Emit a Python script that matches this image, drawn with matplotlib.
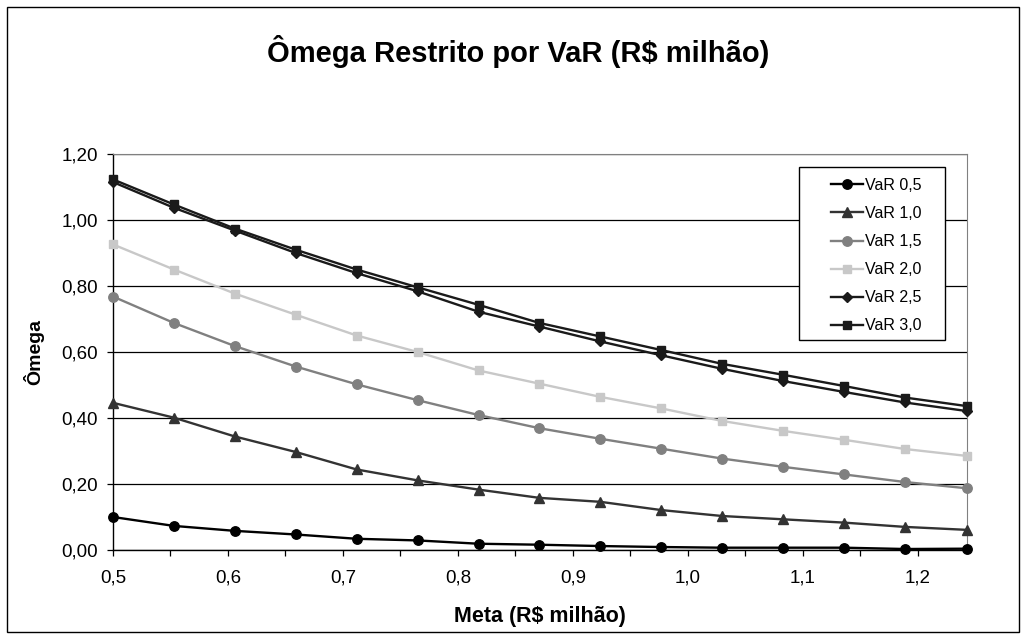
import matplotlib
matplotlib.use("Agg")
import matplotlib.pyplot as plt
from matplotlib.patches import Rectangle
from matplotlib.ticker import MultipleLocator, FuncFormatter

plt.rcParams["font.family"] = ["Liberation Sans", "DejaVu Sans"]

# Meta (R$ milhão) -- 15 points from 0.5 to ~1.243
meta = [0.500, 0.553, 0.606, 0.659, 0.712, 0.765, 0.818, 0.871,
        0.924, 0.977, 1.030, 1.083, 1.136, 1.189, 1.243]

var_05 = [0.100, 0.073, 0.058, 0.047, 0.034, 0.029, 0.019, 0.016,
          0.012, 0.009, 0.007, 0.007, 0.007, 0.003, 0.004]
var_10 = [0.446, 0.401, 0.344, 0.297, 0.244, 0.211, 0.183, 0.158,
          0.146, 0.121, 0.103, 0.093, 0.083, 0.070, 0.061]
var_15 = [0.768, 0.688, 0.618, 0.556, 0.502, 0.454, 0.409, 0.369,
          0.337, 0.307, 0.277, 0.252, 0.229, 0.206, 0.187]
var_20 = [0.926, 0.850, 0.777, 0.713, 0.650, 0.600, 0.544, 0.504,
          0.464, 0.429, 0.391, 0.361, 0.334, 0.306, 0.285]
var_25 = [1.115, 1.037, 0.968, 0.900, 0.839, 0.784, 0.722, 0.677,
          0.632, 0.590, 0.549, 0.512, 0.479, 0.447, 0.421]
var_30 = [1.123, 1.047, 0.974, 0.910, 0.850, 0.796, 0.743, 0.688,
          0.647, 0.606, 0.564, 0.531, 0.497, 0.462, 0.436]

# (label, values, colour, marker, marker size)
SERIES = [
    ("VaR 0,5", var_05, "#000000", "o", 6.8),
    ("VaR 1,0", var_10, "#333333", "^", 7.2),
    ("VaR 1,5", var_15, "#808080", "o", 6.8),
    ("VaR 2,0", var_20, "#c8c8c8", "s", 6.2),
    ("VaR 2,5", var_25, "#1a1a1a", "D", 5.4),
    ("VaR 3,0", var_30, "#1a1a1a", "s", 6.2),
]

fig = plt.figure(figsize=(10.26, 6.39), dpi=100)
ax = fig.add_axes([113 / 1026, 1 - 550 / 639, (967 - 113) / 1026, (550 - 154) / 639])

for label, vals, col, mk, ms in SERIES:
    ax.plot(meta, vals, color=col, lw=1.7, marker=mk, markersize=ms,
            markerfacecolor=col, markeredgecolor=col, label=label,
            clip_on=False, zorder=3)

ax.set_xlim(0.5, meta[-1])
ax.set_ylim(0, 1.2)
ax.xaxis.set_major_locator(MultipleLocator(0.1))
ax.xaxis.set_minor_locator(MultipleLocator(0.05))
ax.yaxis.set_major_locator(MultipleLocator(0.2))
ax.xaxis.set_major_formatter(FuncFormatter(lambda v, p: f"{v:.1f}".replace(".", ",")))
ax.yaxis.set_major_formatter(FuncFormatter(lambda v, p: f"{v:.2f}".replace(".", ",")))
ax.tick_params(axis="both", which="both", direction="out", length=4, width=0.9,
               color="black", labelsize=13.5, pad=7)
ax.tick_params(axis="x", which="both", pad=10)
ax.grid(axis="y", color="black", lw=0.9, zorder=1)
ax.set_axisbelow(True)
for side in ("left", "bottom"):
    ax.spines[side].set_color("black")
    ax.spines[side].set_linewidth(1.0)
ax.spines["right"].set_color("#808080")
ax.spines["top"].set_color("#808080")

ax.set_xlabel("Meta (R$ milhão)", fontsize=15.5, fontweight="bold", labelpad=14)
ax.set_ylabel("Ômega", fontsize=14, fontweight="bold", labelpad=12)

fig.text(0.505, 1 - 52 / 639, "Ômega Restrito por VaR (R$ milhão)", ha="center",
         va="center", fontsize=21, fontweight="bold")

# legend box (drawn over the gridlines) and its entries
fig.patches.append(Rectangle((799 / 1026, 1 - 340 / 639), 146 / 1026, 173 / 639,
                             transform=fig.transFigure, facecolor="white",
                             edgecolor="black", lw=1.0, zorder=1))
fig.legend(loc="upper left", bbox_to_anchor=(823 / 1026, 1 - 170 / 639),
           frameon=False, fontsize=11.5, handlelength=2.0, handletextpad=0.15,
           labelspacing=0.82, borderpad=0.0)

# chart-area border
fig.patches.append(Rectangle((7 / 1026, 7 / 639), 1012 / 1026, 625 / 639,
                             transform=fig.transFigure, facecolor="none",
                             edgecolor="black", lw=1.0, zorder=0))

fig.savefig("out.png", dpi=100)
